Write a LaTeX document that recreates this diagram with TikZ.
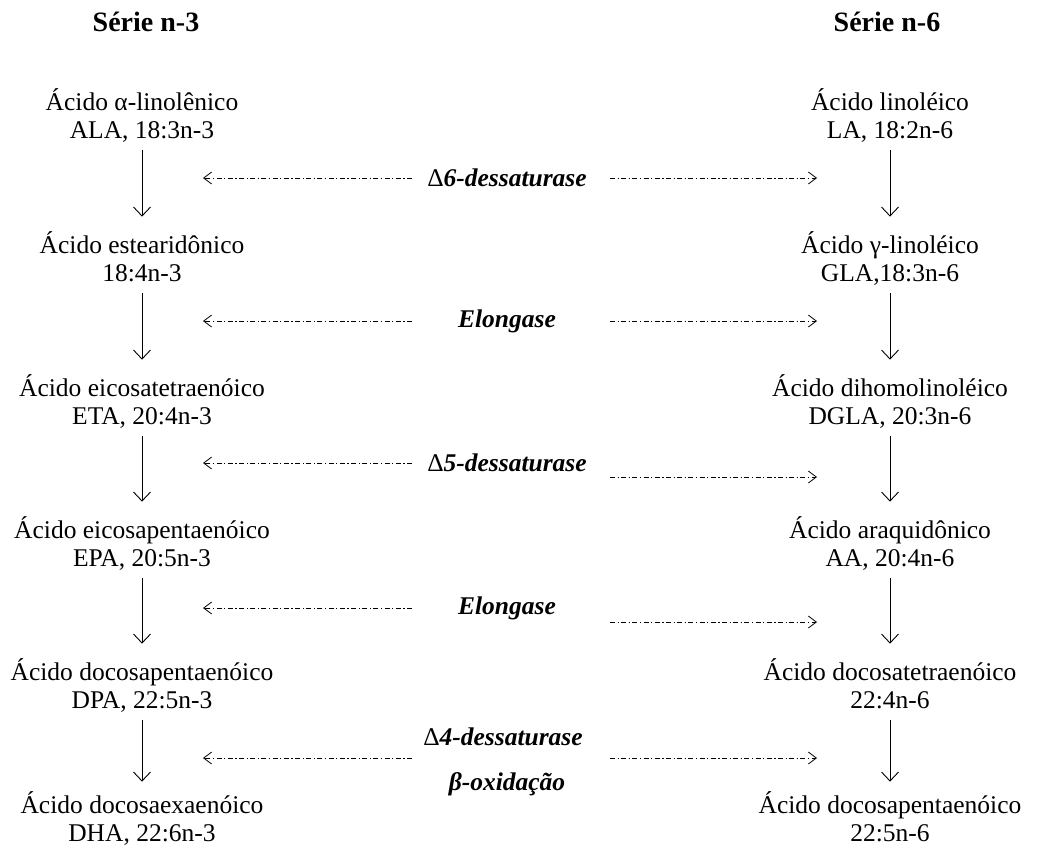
\documentclass[tikz,border=0pt]{standalone}
\usepackage{fontspec}
\setmainfont{Liberation Serif}
\usetikzlibrary{arrows.meta}

\tikzset{
  acid/.style={align=center, inner sep=0pt, font=\fontsize{25.5}{28}\selectfont},
  serie/.style={inner sep=0pt, font=\fontsize{28}{30}\selectfont\bfseries},
  enzyme/.style={inner sep=0pt, font=\fontsize{25.5}{28}\selectfont\bfseries\itshape},
  chain/.style={-{Straight Barb[length=9pt,width=17pt]}, line width=0.9pt,
    shorten <=3pt, shorten >=15pt},
  enz/.style={-{Straight Barb[length=8pt,width=12pt]}, line width=0.8pt,
    dash pattern=on 5pt off 2.5pt on 1.2pt off 2.5pt}
}

\begin{document}
\begin{tikzpicture}[x=1pt,y=-1pt]
\useasboundingbox (0,0) rectangle (1058,847);
% Column titles
\node[serie] (s3) at (146,22) {Série n-3};
\node[serie] (s6) at (887,22) {Série n-6};
% Series n-3 on the left
\node[acid] (ala) at (142,118) {Ácido α-linolênico\\ALA, 18:3n-3\strut};
\node[acid] (sda) at (142,261) {Ácido estearidônico\\18:4n-3\strut};
\node[acid] (eta) at (142,404) {Ácido eicosatetraenóico\\ETA, 20:4n-3\strut};
\node[acid] (epa) at (142,546) {Ácido eicosapentaenóico\\EPA, 20:5n-3\strut};
\node[acid] (dpa) at (142,688) {Ácido docosapentaenóico\\DPA, 22:5n-3\strut};
\node[acid] (dha) at (142,821) {Ácido docosaexaenóico\\DHA, 22:6n-3\strut};
% Series n-6 on the right
\node[acid] (la) at (890,118) {Ácido linoléico\\LA, 18:2n-6\strut};
\node[acid] (gla) at (890,261) {Ácido γ-linoléico\\GLA,18:3n-6\strut};
\node[acid] (dgla) at (890,404) {Ácido dihomolinoléico\\DGLA, 20:3n-6\strut};
\node[acid] (aa) at (890,546) {Ácido araquidônico\\AA, 20:4n-6\strut};
\node[acid] (dta) at (890,688) {Ácido docosatetraenóico\\22:4n-6\strut};
\node[acid] (dpan) at (890,821) {Ácido docosapentaenóico\\22:5n-6\strut};
% Steps down each column
\draw[chain] (ala) -- (sda);
\draw[chain] (sda) -- (eta);
\draw[chain] (eta) -- (epa);
\draw[chain] (epa) -- (dpa);
\draw[chain, shorten >=10pt] (dpa) -- (dha);
\draw[chain] (la) -- (gla);
\draw[chain] (gla) -- (dgla);
\draw[chain] (dgla) -- (aa);
\draw[chain] (aa) -- (dta);
\draw[chain, shorten >=10pt] (dta) -- (dpan);
% Enzymes in the middle
\node[enzyme] (d6) at (507,178) {\textup{\mdseries Δ}6-dessaturase};
\node[enzyme] (el1) at (507,321) {Elongase};
\node[enzyme] (d5) at (507,463) {\textup{\mdseries Δ}5-dessaturase};
\node[enzyme] (el2) at (507,608) {Elongase};
\node[enzyme] (d4) at (503,737) {\textup{\mdseries Δ}4-dessaturase};
\node[enzyme] (box) at (507,784) {β-oxidação};
% Ends of the dash-dot arrows
\coordinate (l1s) at (412,178); \coordinate (l1t) at (203,178);
\coordinate (r1s) at (610,178); \coordinate (r1t) at (817,178);
\coordinate (l2s) at (412,321); \coordinate (l2t) at (203,321);
\coordinate (r2s) at (610,321); \coordinate (r2t) at (817,321);
\coordinate (l3s) at (412,463); \coordinate (l3t) at (203,463);
\coordinate (r3s) at (610,477); \coordinate (r3t) at (817,477);
\coordinate (l4s) at (412,608); \coordinate (l4t) at (203,608);
\coordinate (r4s) at (610,622); \coordinate (r4t) at (817,622);
\coordinate (l5s) at (412,758); \coordinate (l5t) at (203,758);
\coordinate (r5s) at (610,758); \coordinate (r5t) at (817,758);
% Dash-dot arrows to both series
\draw[enz] (l1s) -- (l1t); \draw[enz] (r1s) -- (r1t);
\draw[enz] (l2s) -- (l2t); \draw[enz] (r2s) -- (r2t);
\draw[enz] (l3s) -- (l3t); \draw[enz] (r3s) -- (r3t);
\draw[enz] (l4s) -- (l4t); \draw[enz] (r4s) -- (r4t);
\draw[enz] (l5s) -- (l5t); \draw[enz] (r5s) -- (r5t);
\end{tikzpicture}
\end{document}
